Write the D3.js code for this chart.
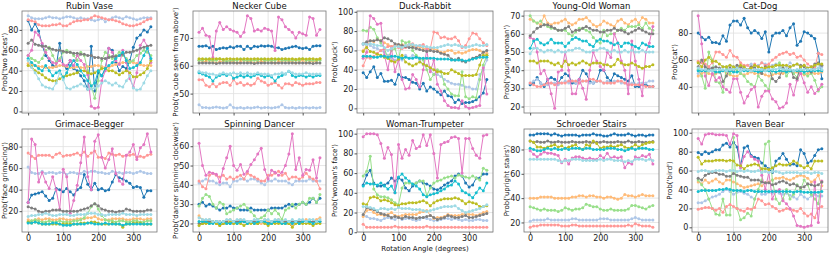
<!DOCTYPE html>
<html>
<head>
<meta charset="utf-8">
<script src="https://cdn.jsdelivr.net/npm/d3@7"></script>
<style>
  body { margin: 0; background: #fff; }
  text { font-family: "DejaVu Sans", sans-serif; }
</style>
</head>
<body>
<div id="chart"></div>
<script>
// rotation angles, one point every 10 degrees
let angles = d3.range(0, 360, 10);
let xTicks = [0, 100, 200, 300];
// tab20 picks, one per model
let seriesColors = ["#1f77b4", "#aec7e8", "#ffbb78", "#98df8a", "#ff9896",
    "#e377c2", "#7f7f7f", "#bcbd22", "#17becf", "#9edae5"];

let titles = ["Rubin Vase", "Necker Cube", "Duck-Rabbit", "Young-Old Woman", "Cat-Dog",
    "Grimace-Begger", "Spinning Dancer", "Woman-Trumpeter", "Schroeder Stairs", "Raven Bear"];
let yLabels = ["Prob('two faces')", "Prob('a cube seen from above')", "Prob('duck')",
    "Prob('young woman')", "Prob('cat')", "Prob('face grimacing')",
    "Prob('dancer spinning clockwise')", "Prob('woman's face')", "Prob('upright stairs')", "Prob('bird')"];
let yTicks = [
    [0, 20, 40, 60, 80], [50, 60, 70], [0, 20, 40, 60, 80, 100], [20, 30, 40, 50, 60, 70], [40, 60, 80],
    [20, 40, 60, 80], [20, 30, 40, 50, 60], [0, 20, 40, 60, 80, 100], [20, 40, 60, 80], [0, 20, 40, 60, 80, 100]
];

let rubinVase = [
    [89,80,86,79,65,55,50,45,44,67,45,42,50,42,40,35,30,22,64,20,38,35,42,62,60,48,40,44,42,50,63,72,75,80,78,83],
    [94,92,91,91,91,92,93,92,92,91,92,93,93,92,91,92,91,91,90,89,90,91,88,90,92,93,92,91,93,92,91,90,91,92,92,92],
    [47,46,45,44,44,43,43,43,44,45,45,44,43,43,44,43,43,44,44,45,45,44,43,43,45,46,47,48,48,49,48,47,46,45,45,45],
    [55,52,50,48,52,60,63,55,48,52,58,60,58,55,50,58,55,40,25,13,30,50,58,55,52,55,58,55,52,48,50,55,57,60,58,55],
    [90,89,88,85,84,84,84,85,85,86,84,84,86,88,89,89,90,90,92,94,93,92,91,90,90,89,88,86,85,84,84,85,86,88,90,91],
    [55,60,78,75,67,58,52,48,47,50,46,45,50,45,55,50,46,36,5,3,4,30,40,62,58,50,46,60,48,32,24,38,65,70,64,48],
    [67,70,66,65,64,64,62,61,60,60,59,58,58,57,57,56,56,55,55,53,53,52,52,53,54,54,55,56,58,58,59,60,62,63,64,65],
    [45,44,40,38,36,33,31,30,30,32,34,35,36,37,38,40,40,38,37,38,40,42,42,40,40,38,36,38,40,38,34,34,36,38,42,50],
    [52,48,45,42,40,45,40,35,38,40,33,38,45,50,46,40,35,30,25,28,40,35,42,45,48,52,55,58,50,42,43,45,48,55,62,52],
    [50,43,38,32,26,24,23,22,28,38,31,23,22,24,25,27,25,22,22,23,25,28,30,28,26,28,25,24,30,35,23,21,22,28,35,40]
];

let neckerCube = [
    [67,67,67.2,66.5,67,65.8,66.2,66.5,66.3,66.8,66.5,67,67,65.8,67,66.2,67,66.8,67.2,67,67.2,67,66.5,66.5,65.8,66.2,66.5,66.8,67,66.5,66.2,66.5,65.8,67,67.2,67.2],
    [46,45,45,44.8,45,45.2,45,44.8,45,46,45,44.8,45,44.7,45,44.8,45,45.2,44.8,45,45,44.8,45,45.2,46,45,44.8,45,44.7,45,44.8,45,44.8,45,44.8,45],
    [62,61.5,61.5,62,61.5,61,61.5,61.5,62,61.5,61.5,61,61.5,62,61.5,61.5,61,61.5,61.5,61.5,62,61.5,61,61.5,61.5,62,61.5,61.5,61,61.5,62,61,61.5,61.5,61.5,62.5],
    [62,62,62.5,62,62,62,62.5,62,61.5,62,62,62,62.5,62,62,62,62,62,62.5,62,62,62,62,62.5,62,62,62,62,62,62,62.5,62,62,62,62,62],
    [55,55,53,52.5,53.5,52.5,53.5,54,54,53,55,53.5,54,53,53.5,53,53.5,55.5,54.5,54,53,53.5,54,53,52,53.5,53.5,53,54,53.5,53,53.5,53.5,53.5,54,54],
    [72,73.5,71,70.5,63,72.5,75.5,73,74,73,72.5,72,70.5,72,78,77,72.5,73,72.5,73.5,73,72.5,65.5,77.5,76.5,74,73,72,70,72,71.5,71,77.5,77,71,73],
    [61,61,61,61,61,60.8,61,61,61,61,61,61,61,61,61,61,60.8,61,61,61,61,61,61,61,61,61,61,61,61,61,61,61,61,60.8,61,61],
    [62.5,62.5,62.3,62.5,62.4,62.5,62.5,62.3,62.5,62.5,62.4,62.5,62.3,62.5,62.5,62.4,62.5,62.5,62.3,62.5,62.4,62.5,62.5,62.3,62.5,62.5,62.4,62.5,62.3,62.5,62.5,62.4,62.5,62.5,62.3,62.5],
    [57.5,57,56.5,56,54.5,56,56.5,57,56.5,57,55.5,56,56.5,56,56.5,56,56.5,57,56.5,56,56.5,56,54.5,56,56.5,57,58,56.5,56,56.5,56.5,56,56.5,56,56.5,56.5],
    [58,57.5,57.5,57,57,56.5,57,57.5,57,57,57.5,57,57.5,57,57.5,57,57,57.5,57,57,57,56.5,57,57,57.5,57,58,57.5,57,57,57,57.5,57,57,57,57]
];

let duckRabbit = [
    [37,32,38,43,32,36,28,28,29,25,35,32,32,30,27,26,20,26,18,22,20,17,14,18,13,12,6,9,5,6,6,7,9,12,16,30],
    [66,68,65,63,62,60,58,55,52,50,52,50,55,52,55,53,50,45,45,40,35,35,33,30,28,26,25,25,24,22,22,20,20,35,40,50],
    [60,65,70,69,72,70,68,66,64,65,66,66,65,66,65,63,64,62,61,61,62,60,58,58,60,60,57,58,57,58,60,61,61,60,58,57],
    [81,80,84,82,73,68,62,52,60,62,50,70,68,69,60,55,52,50,40,30,35,40,38,25,20,15,13,13,38,12,10,12,11,30,45,55],
    [44,53,52,54,57,60,62,64,64,65,63,62,63,66,67,64,65,66,62,62,79,78,73,74,72,72,74,70,63,65,72,78,77,72,68,65],
    [52,58,96,93,87,88,55,40,62,38,50,30,20,21,35,30,22,40,60,38,50,25,18,8,3,1,1,0,8,2,0,1,2,3,42,15],
    [67,69,70,70,71,70,73,72,70,67,66,65,64,63,63,62,61,60,59,60,59,59,57,56,55,51,50,52,49,48,50,52,53,55,58,60],
    [59,63,59,58,56,55,53,52,49,48,51,55,48,46,44,46,48,46,44,42,40,38,38,36,36,40,38,36,34,34,34,34,35,45,55,55],
    [54,54,54,53,53,54,54,53,54,54,53,52,53,52,52,53,52,52,52,52,52,51,51,51,51,50,50,50,50,49,50,51,52,53,53,53],
    [67,66,67,66,65,65,63,60,62,64,64,63,65,66,66,65,65,64,64,63,63,63,64,65,66,65,66,65,64,63,64,65,66,65,65,66]
];

let youngOldWoman = [
    [32,33,36,33,31,35,36,35,33,36,38,37,33,33,35,40,38,34,33,34,40,40,36,34,38,37,36,35,34,37,31,31,32,32,31,31],
    [33,34,35,33,32,32,33,33,32,33,34,33,34,33,33,34,34,33,33,34,34,33,34,33,34,34,33,33,32,33,32,33,33,33,34,34],
    [68,67,66,65,70,66,65,66,66,67,68,66,65,66,68,68,69,67,65,64,65,67,66,65,64,67,68,66,65,67,68,66,69,68,66,66],
    [70,67,66,67,65,64,63,63,62,62,62,60,59,61,63,63,62,61,58,56,55,62,59,60,60,62,63,62,64,64,64,65,63,66,63,62],
    [33,32,31,31,32,33,33,32,33,33,33,34,34,34,33,34,34,35,35,34,34,33,33,33,33,34,34,33,32,32,32,32,32,31,31,31],
    [58,57,50,38,40,35,27,19,39,40,50,40,27,27,35,30,24,40,50,45,42,40,50,47,60,55,45,40,27,56,45,35,26,50,55,64],
    [59,61,63,64,65,65,64,63,62,62,63,64,61,62,62,63,64,63,62,62,61,61,62,62,63,62,62,61,60,61,62,63,62,61,60,60],
    [45,45,44,45,45,45,44,43,44,42,45,43,44,43,44,45,44,43,44,44,44,43,43,42,43,46,44,43,43,44,43,42,41,42,42,43],
    [52,56,57,55,54,55,57,55,55,55,53,55,57,58,57,56,56,54,53,56,57,56,56,55,54,55,53,55,55,54,53,52,55,54,53,53],
    [49,52,52,51,50,51,51,50,51,50,50,51,51,52,52,51,50,50,51,51,52,52,51,50,51,50,50,51,50,51,50,50,51,50,50,50]
];

let catDog = [
    [80,77,75,77,73,73,72,78,74,86,89,89,86,91,84,80,82,80,76,81,66,78,80,80,82,78,84,87,71,74,81,80,78,76,65,46],
    [50,52,53,55,54,53,53,55,54,56,55,55,54,55,56,57,55,56,58,57,55,56,57,55,56,55,58,56,57,55,56,54,55,56,54,55],
    [48,50,51,50,49,50,51,52,50,49,48,48,50,49,50,51,50,50,50,49,48,49,50,50,50,51,52,50,51,50,49,50,51,50,50,51],
    [53,48,39,66,60,44,43,36,55,50,54,52,50,48,44,42,40,48,45,41,38,52,56,58,54,48,52,50,47,55,50,48,50,45,37,40],
    [59,58,57,55,58,66,66,64,62,67,63,62,58,56,56,54,57,55,58,56,57,60,62,64,65,66,64,65,62,63,60,57,55,54,65,64],
    [93,72,48,41,50,45,47,40,38,36,46,46,36,28,33,38,40,25,33,37,37,31,29,24,25,28,42,34,45,50,43,36,40,35,38,42],
    [55,60,55,53,54,55,54,44,48,54,52,56,55,53,53,55,54,52,50,55,54,46,44,47,54,52,55,47,46,56,55,52,51,57,58,56],
    [58,55,60,62,59,59,57,55,55,56,55,54,56,55,53,54,56,55,54,54,55,55,56,56,56,56,55,56,57,55,56,54,55,56,57,57],
    [52,52,52,52,52,51,51,52,52,52,51,51,52,52,52,52,52,51,52,52,52,52,51,52,52,51,52,52,52,52,51,52,52,52,52,52],
    [54,53,53,52,52,53,53,53,52,53,53,54,52,53,53,52,53,53,53,52,53,53,53,54,53,53,53,52,53,53,53,53,53,53,54,53]
];

let grimaceBegger = [
    [28,35,36,37,38,34,30,32,41,40,38,41,38,35,40,42,54,45,40,46,40,41,39,40,47,54,51,50,48,46,42,43,42,33,39,39],
    [61,56,55,55,57,55,56,56,55,56,56,54,56,56,55,55,57,56,57,57,56,56,55,55,57,56,56,55,56,56,55,56,57,56,55,55],
    [12,11,12,13,12,13,13,12,12,13,13,12,12,12,13,13,13,14,14,15,13,12,12,12,13,13,13,13,12,12,13,13,13,12,13,13],
    [10,11,12,11,10,10,11,10,10,11,10,10,10,11,11,12,14,18,24,27,22,16,12,11,11,10,11,11,10,10,11,11,10,10,11,11],
    [74,71,69,72,72,72,72,70,73,74,71,72,72,73,74,72,75,71,74,76,70,70,69,74,73,72,73,71,72,72,73,70,71,70,72,73],
    [28,87,82,47,56,47,41,52,40,22,59,52,18,30,44,65,89,52,40,85,91,70,60,68,78,55,48,45,72,75,82,68,79,82,92,75],
    [24,23,22,20,19,20,20,21,21,21,20,20,20,20,20,21,22,23,25,27,25,22,21,20,20,19,20,20,22,21,20,20,20,20,21,21],
    [10,9,10,9,8,8,8,8,8,8,8,8,8,8,8,9,9,9,10,10,9,8,8,8,9,8,8,5,8,8,9,9,9,8,8,8],
    [9,9,10,9,8,8,8,9,9,8,7,7,7,8,8,8,8,9,9,8,8,8,9,8,8,8,8,7,8,8,8,8,8,8,8,8],
    [15,16,16,17,17,18,17,16,16,17,17,17,16,16,17,17,17,18,18,18,17,17,16,17,17,17,17,18,17,17,17,16,17,17,17,17]
];

let spinningDancer = [
    [30,31,29,30,29,28,27,28,28,29,28,28,27,27,27,28,27,27,27,27,27,28,28,28,28,29,30,29,30,30,31,30,31,33,31,33],
    [41,42,43,42,42,41,40,41,41,39,42,42,43,43,42,43,43,42,41,40,42,42,43,42,42,42,41,40,42,42,42,42,43,42,42,42],
    [24,22,21,22,21,20,19,20,21,22,20,21,22,21,20,21,21,20,20,22,21,20,21,22,20,21,20,19,21,20,21,22,21,21,22,23],
    [29,33,35,34,30,28,31,30,25,26,27,28,29,30,28,26,24,22,23,24,27,25,27,25,22,27,28,30,28,30,31,30,33,33,31,35],
    [42,39,38,45,46,45,44,45,43,44,43,44,45,43,46,45,44,43,42,42,45,45,46,47,45,46,43,44,44,43,44,46,44,43,42,38],
    [61.5,50,45,46.5,46,45.5,41.5,48.5,54,60,50,47.5,50.5,45.5,47,50.5,53,56,59,48,43,47.5,46.5,45,46.5,50,56,66.5,48,54,45,48,47.5,53,43.5,54],
    [20,20,21,21,21,21,21,20,21,20,21,21,21,21,21,21,21,20,21,21,20,21,21,21,21,21,20,21,21,21,21,21,21,21,21,21],
    [19,20,20,20,21,20,19,20,20,21,20,20,20,19,20,20,20,20,21,20,19,20,20,20,20,20,20,18,20,20,20,20,20,19,20,20],
    [21,21,21,20,20,21,20,21,20,20,21,20,21,21,20,21,20,21,21,21,20,20,21,21,20,20,21,20,21,20,21,21,21,20,21,21],
    [23,22,22,22,21,21,21,21,22,22,21,22,22,22,21,21,22,22,21,22,22,21,22,22,21,22,21,22,21,22,22,21,22,22,21,22]
];

let womanTrumpeter = [
    [48,58,63,50,47,47,48,50,55,52,55,53,45,42,47,50,52,50,49,47,44,43,45,48,50,52,57,59,57,50,46,48,55,55,59,59],
    [17,16,14,14,13,12,14,15,14,13,15,13,14,14,13,12,13,15,14,13,12,12,13,14,14,13,14,13,12,13,12,12,13,13,12,12],
    [16,22,23,20,18,18,17,18,20,17,16,17,18,18,18,18,20,21,22,17,14,15,15,16,18,17,17,17,18,19,18,18,17,18,20,21],
    [57,62,77,44,38,36,36,35,33,30,28,45,50,50,49,50,52,52,37,45,50,52,53,55,56,57,55,58,57,56,55,57,55,53,65,63],
    [8,5,5,5,5,5,5,5,5,6,5,5,5,5,5,5,5,5,6,5,5,5,5,5,5,5,5,5,5,5,5,5,5,5,5,5],
    [97,100,100,100,99,90,75,86,79,40,89,75,84,78,93,85,87,99,88,99,80,55,89,91,92,96,97,95,60,95,95,85,78,75,98,99],
    [18,25,24,23,21,19,18,17,15,16,15,14,16,15,15,14,15,15,16,17,15,13,14,15,17,16,15,15,16,17,15,15,16,17,18,19],
    [29,28,35,36,35,32,33,32,30,28,27,29,29,30,30,30,31,32,30,27,30,32,33,34,34,34,35,34,32,29,31,30,29,26,26,27],
    [47,50,49,49,48,50,47,44,47,40,56,59,55,52,49,47,44,38,36,38,39,40,42,44,47,48,52,49,42,40,38,35,40,45,42,50],
    [26,26,25,24,22,24,24,23,24,23,25,24,24,24,23,23,23,22,21,22,23,24,25,26,26,26,27,24,22,20,21,22,23,24,26,28]
];

let schroederStairs = [
    [92,92,93,93,93,93,92,93,92,91,92,92,92,92,91,92,92,92,93,92,92,91,91,92,93,92,92,92,93,92,91,92,92,91,92,92],
    [21,22,22,22,22,23,22,22,22,22,22,22,23,23,22,22,22,22,22,22,23,23,23,22,22,22,22,22,22,23,24,23,22,22,22,22],
    [40,40,40,41,41,41,41,40,40,40,40,40,41,41,42,42,41,42,42,41,41,40,41,41,40,39,40,43,42,42,41,42,43,42,42,42],
    [33,32,31,30,31,30,30,30,29,30,32,31,30,31,31,32,35,34,33,33,31,30,30,31,30,30,30,30,31,34,34,33,32,31,33,34],
    [16,17,17,18,18,18,18,18,18,17,17,17,18,18,17,17,17,17,17,17,17,17,17,17,17,17,17,17,18,17,19,18,17,17,17,16],
    [79,76,74,76,78,77,77,76,75,69,72,68,73,74,74,73,72,73,72,72,75,73,77,73,74,73,74,65,69,68,74,73,75,74,76,68],
    [87,86,86.5,86,86,87,86,86,86.5,86,86,86,86.5,86,86,86,86.5,86,86,86,86,86.5,86,86,86,86.5,86,86,87,86,86,86.5,86,86,86,86.5],
    [87,86,82,82,81,82,83,84,82,83,81,82,83,84,81,80,84,83,87,85,81,82,82,83,82,83,84,82,81,82,84,82,84,85,86,86],
    [81,80,79,79,80,81,80,81,80,80,81,80,81,81,81,80,81,81,80,80,80,80,81,81,81,80,80,79,80,81,80,81,81,81,80,80],
    [72,72,72,72,72,72,72,72,71,70,71,71,72,72,72,71,71,71,71,71,72,71,72,72,71,71,71,70,71,70,72,72,72,71,72,71]
];

let ravenBear = [
    [79,77,80,78,80,82,82,87,89,85,90,85,65,84,86,76,74,73,68,65,62,58,70,73,78,72,66,67,65,82,78,68,70,76,82,83],
    [26,26,28,30,32,33,35,38,40,38,35,37,38,36,35,32,30,38,35,35,37,36,38,36,35,36,34,32,30,35,32,30,33,35,33,33],
    [48,46,50,47,49,51,48,46,50,50,48,46,44,42,43,44,45,46,44,47,48,50,52,52,53,51,50,52,54,55,54,52,48,50,55,44],
    [50,45,40,30,20,14,13,30,13,13,95,20,8,10,15,12,30,40,50,88,91,50,30,25,30,40,30,35,45,40,50,45,35,30,25,48],
    [19,20,21,21,20,18,20,16,22,24,22,20,18,17,20,19,21,30,28,24,25,22,20,17,18,20,19,18,17,20,15,12,14,10,20,22],
    [94,88,98,99,99,98,98,98,97,88,99,97,63,75,80,75,72,70,55,40,58,30,38,40,28,25,20,12,2,1,0,1,2,48,5,49],
    [52,50,55,57,58,58,56,56,54,54,57,55,54,53,53,50,50,50,48,47,47,45,46,48,49,47,45,46,44,42,43,46,45,44,45,48],
    [74,67,70,70,70,71,71,71,70,71,70,66,65,62,65,66,67,66,62,62,61,63,65,67,66,66,67,70,68,65,63,65,62,70,70,70],
    [38,39,39,39,39,39,40,40,41,40,39,39,39,38,39,39,38,38,38,38,38,38,38,38,38,38,38,37,38,38,37,37,37,37,37,38],
    [59,60,60,59,59,60,60,60,59,60,60,59,60,59,60,59,59,60,58,59,58,59,59,58,57,58,58,58,58,57,58,58,57,58,58,57]
];

let panelData = [rubinVase, neckerCube, duckRabbit, youngOldWoman, catDog,
    grimaceBegger, spinningDancer, womanTrumpeter, schroederStairs, ravenBear];

let svgWidth = 831;
let svgHeight = 254;
// plot-area boxes per column / row (the y-label widths differ, like tight_layout)
let colLeft = [22, 193, 357, 524, 692];
let colRight = [157, 326, 493, 659, 828];
let rowTop = [11, 129];
let rowBottom = [113, 232];

let svg = d3.select("#chart").append("svg")
    .attr("width", svgWidth)
    .attr("height", svgHeight);

let lineFunction = d3.line()
    .x(function (d) { return d.x; })
    .y(function (d) { return d.y; });

for (let i = 0; i < panelData.length; i++) {
    drawPanel(i);
}

function drawPanel(i) {
    let col = i % 5;
    let row = Math.floor(i / 5);
    let left = colLeft[col], right = colRight[col];
    let top = rowTop[row], bottom = rowBottom[row];
    let series = panelData[i];

    let x = d3.scaleLinear().domain([-17.5, 367.5]).range([left, right]);
    let lo = d3.min(series, s => d3.min(s));
    let hi = d3.max(series, s => d3.max(s));
    let pad = (hi - lo) * 0.05;
    let y = d3.scaleLinear().domain([lo - pad, hi + pad]).range([bottom, top]);

    let group = svg.append("g").attr("class", "panel");

    // grid
    group.append("g").selectAll("line").data(xTicks).enter().append("line")
        .attr("x1", d => x(d)).attr("x2", d => x(d))
        .attr("y1", top).attr("y2", bottom)
        .attr("stroke", "#e0e0e0").attr("stroke-width", 0.8);
    group.append("g").selectAll("line").data(yTicks[i]).enter().append("line")
        .attr("x1", left).attr("x2", right)
        .attr("y1", d => y(d)).attr("y2", d => y(d))
        .attr("stroke", "#e0e0e0").attr("stroke-width", 0.8);

    // series
    series.forEach(function (vals, k) {
        let pts = vals.map((v, j) => ({ x: x(angles[j]), y: y(v) }));
        let g = group.append("g");
        g.append("path")
            .attr("d", lineFunction(pts))
            .attr("fill", "none")
            .attr("stroke", seriesColors[k])
            .attr("stroke-width", 1);
        g.selectAll("circle").data(pts).enter().append("circle")
            .attr("cx", d => d.x).attr("cy", d => d.y).attr("r", 1.5)
            .attr("fill", seriesColors[k]);
    });

    // frame
    group.append("rect")
        .attr("x", left).attr("y", top)
        .attr("width", right - left).attr("height", bottom - top)
        .attr("fill", "none").attr("stroke", "#777").attr("stroke-width", 0.8);

    let xAxis = d3.axisBottom(x).tickValues(xTicks).tickSize(2.5).tickPadding(1.2);
    if (row == 0) xAxis.tickFormat(() => "");
    let xg = group.append("g").attr("transform", "translate(0," + bottom + ")").call(xAxis);
    let yg = group.append("g").attr("transform", "translate(" + left + ",0)")
        .call(d3.axisLeft(y).tickValues(yTicks[i]).tickSize(2.5).tickPadding(1.2));
    [xg, yg].forEach(function (ag) {
        ag.select(".domain").remove();
        ag.selectAll(".tick line").attr("stroke", "#555");
        ag.selectAll(".tick text")
            .attr("fill", "#222")
            .style("font-family", "DejaVu Sans")
            .style("font-size", "8px");
    });

    let box = yg.node().getBBox();
    let cy = (top + bottom) / 2;
    let lx = left + box.x - 1.5;
    group.append("text")
        .attr("transform", "translate(" + lx + "," + cy + ") rotate(-90)")
        .attr("text-anchor", "middle")
        .style("font-size", "7px")
        .attr("fill", "#111")
        .text(yLabels[i]);

    group.append("text")
        .attr("x", (left + right) / 2)
        .attr("y", top - 2.5)
        .attr("text-anchor", "middle")
        .style("font-size", "8.5px")
        .attr("fill", "#111")
        .text(titles[i]);

    if (i == 7) {
        group.append("text")
            .attr("x", (left + right) / 2)
            .attr("y", 251)
            .attr("text-anchor", "middle")
            .style("font-size", "7px")
            .attr("fill", "#111")
            .text("Rotation Angle (degrees)");
    }
}
</script>
</body>
</html>
